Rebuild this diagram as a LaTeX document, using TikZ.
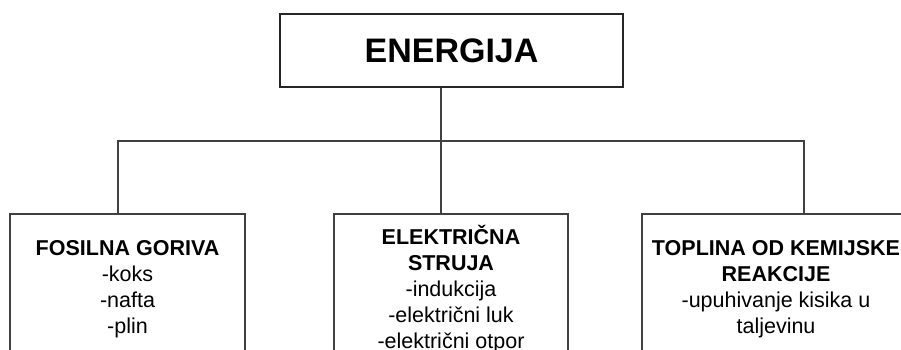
\documentclass[tikz,border=0pt]{standalone}
\usepackage{fontspec}
\setmainfont{Liberation Sans}
\tikzset{>=latex}
\tikzset{
  box/.style={draw=black!75, line width=1.6pt, align=center, anchor=north,
    minimum height=150pt, inner sep=0pt, font=\fontsize{21.5}{26}\selectfont},
  veza/.style={draw=black!75, line width=1.6pt},
}

\begin{document}
\begin{tikzpicture}[x=1pt,y=-1pt]
  \useasboundingbox (0,0) rectangle (901,350);
  \clip (0,0) rectangle (901,350);
  \node[draw=black!85, line width=1.6pt, minimum width=343pt, minimum height=73pt,
    font=\fontsize{34}{40}\selectfont\bfseries] (energija) at (451.5,50.5) {ENERGIJA};
  \node[box, minimum width=235pt] (fosil) at (127.5,213)
    {\textbf{FOSILNA GORIVA}\\-koks\\-nafta\\-plin};
  \node[box, minimum width=234pt] (struja) at (451,213)
    {\textbf{ELEKTRIČNA}\\\textbf{STRUJA}\\-indukcija\\-električni luk\\-električni otpor};
  \node[box, minimum width=268pt] (toplina) at (776,213)
    {\textbf{TOPLINA OD KEMIJSKE}\\\textbf{REAKCIJE}\\-upuhivanje kisika u\\taljevinu};
  \coordinate (bus) at (441,141);
  \draw[veza] ([xshift=-10.5pt]energija.south) -- ([xshift=-10pt]struja.north);
  \draw[veza] ([xshift=-9.5pt]fosil.north) |- (bus) -| ([xshift=28pt]toplina.north);
\end{tikzpicture}
\end{document}
